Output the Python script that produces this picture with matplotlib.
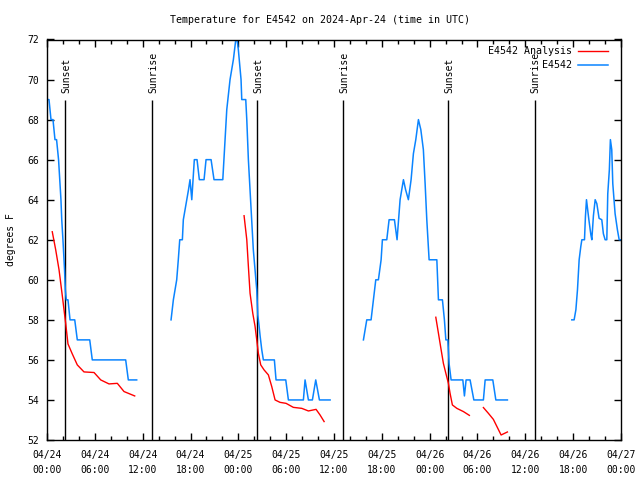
import numpy as np
import matplotlib
matplotlib.use("Agg")
import matplotlib.pyplot as plt

# ---- data (hours since 2024-04-24 00:00 UTC, degrees F) ----
obs1_h = [0.0, 0.25, 0.5, 0.75, 1.0, 1.2, 1.45, 1.6, 1.75, 1.85, 2.0, 2.2, 2.3, 2.42, 2.63, 2.89, 3.48, 3.8, 5.36, 5.68, 9.87, 10.2, 11.25]
obs1_t = [69, 69, 68, 68, 67, 67, 66, 65, 64, 63, 62, 60.5, 59.5, 59, 59, 58, 58, 57, 57, 56, 56, 55, 55]

obs2_h = [15.56, 15.85, 16.27, 16.47, 16.65, 16.98, 17.10, 17.53, 17.75, 17.94, 18.16, 18.32, 18.48, 18.82, 19.11, 19.70, 19.95, 20.58, 20.95, 22.05, 22.33, 22.55, 22.96, 23.38, 23.68, 23.84, 24.0, 24.34, 24.43, 24.93, 25.06, 25.26, 25.60, 25.88, 26.10, 26.31, 26.44, 26.60, 26.73, 26.94, 27.14, 28.52, 28.73, 29.95, 30.28, 32.16, 32.37, 32.79, 33.29, 33.71, 34.17, 35.51]
obs2_t = [58, 59, 60, 61, 62, 62, 63, 64, 64.5, 65, 64, 65, 66, 66, 65, 65, 66, 66, 65, 65, 67, 68.5, 70, 71, 72, 72, 71.5, 70, 69, 69, 68, 66, 63.5, 61.5, 60.5, 59.5, 58.25, 57.7, 57.2, 56.5, 56, 56, 55, 55, 54, 54, 55, 54, 54, 55, 54, 54]

obs3_h = [39.69, 40.11, 40.65, 40.94, 41.24, 41.57, 41.91, 42.07, 42.62, 42.91, 43.58, 43.91, 44.29, 44.71, 44.98, 45.33, 45.67, 45.96, 46.26, 46.59, 46.89, 47.21, 47.43, 47.64, 47.93, 48.90, 49.10, 49.60, 49.85, 50.03, 50.28, 50.44, 50.69, 52.16, 52.36, 52.57, 53.07, 53.54, 54.74, 54.96, 55.92, 56.30, 57.75]
obs3_t = [57, 58, 58, 59, 60, 60, 61, 62, 62, 63, 63, 62, 64, 65, 64.5, 64, 65, 66.3, 67, 68, 67.5, 66.5, 64.8, 63, 61, 61, 59, 59, 58, 57, 57, 55.8, 55, 55, 54.2, 55, 55, 54, 54, 55, 55, 54, 54]

obs4_h = [65.83, 66.12, 66.34, 66.54, 66.75, 66.96, 67.09, 67.42, 67.54, 67.67, 67.79, 67.97, 68.22, 68.34, 68.54, 68.76, 68.97, 69.25, 69.59, 69.79, 70.01, 70.22, 70.34, 70.54, 70.67, 70.84, 70.97, 71.26, 71.55, 71.77, 72.0]
obs4_t = [58, 58, 58.5, 59.5, 61, 61.67, 62, 62, 63.17, 64, 63.6, 63, 62.25, 62, 63.2, 64, 63.8, 63.07, 63, 62.3, 62, 62, 64.3, 65.5, 67, 66.5, 64.8, 63.3, 62.5, 62, 62]

ana1_h = [0.66, 1.09, 1.51, 1.92, 2.35, 2.63, 3.17, 3.80, 4.64, 5.90, 6.74, 7.78, 8.82, 9.66, 11.0]
ana1_t = [62.4, 61.5, 60.5, 59.2, 57.8, 56.8, 56.3, 55.75, 55.4, 55.37, 55.0, 54.8, 54.83, 54.42, 54.2]

ana2_h = [24.72, 25.06, 25.26, 25.47, 25.81, 26.10, 26.31, 26.51, 26.81, 27.23, 27.77, 28.19, 28.61, 29.23, 29.99, 30.90, 31.96, 32.79, 33.75, 34.25, 34.76]
ana2_t = [63.2, 62, 60.67, 59.33, 58.33, 57.67, 57, 56.33, 55.75, 55.5, 55.25, 54.67, 54.0, 53.88, 53.83, 53.63, 53.58, 53.45, 53.53, 53.25, 52.92]

ana3_h = [48.77, 49.10, 49.44, 49.72, 50.03, 50.35, 50.56, 50.85, 51.41, 52.23, 52.98]
ana3_t = [58.13, 57.33, 56.5, 55.83, 55.33, 54.83, 54.33, 53.75, 53.58, 53.42, 53.23]

ana4_h = [54.74, 55.37, 55.99, 56.55, 56.96, 57.38, 57.75]
ana4_t = [53.62, 53.33, 53.03, 52.58, 52.25, 52.33, 52.4]

sun_events = ["Sunset", "Sunrise", "Sunset", "Sunrise", "Sunset", "Sunrise"]
sun_hours = [2.3, 13.15, 26.33, 37.15, 50.35, 61.15]
sun_line_top = 69.0

xtick_hours = [0, 6, 12, 18, 24, 30, 36, 42, 48, 54, 60, 66, 72]
xtick_labels = ["04/24\n00:00", "04/24\n06:00", "04/24\n12:00", "04/24\n18:00",
                "04/25\n00:00", "04/25\n06:00", "04/25\n12:00", "04/25\n18:00",
                "04/26\n00:00", "04/26\n06:00", "04/26\n12:00", "04/26\n18:00",
                "04/27\n00:00"]
yticks = [52, 54, 56, 58, 60, 62, 64, 66, 68, 70, 72]

title = "Temperature for E4542 on 2024-Apr-24 (time in UTC)"
ylabel = "degrees F"
label_ana = "E4542 Analysis"
label_obs = "E4542"

RED = "#ff0000"
BLUE = "#0a84ff"

def join(segs_h, segs_t):
    hh, tt = [], []
    for h, t in zip(segs_h, segs_t):
        hh += list(h) + [np.nan]
        tt += list(t) + [np.nan]
    return np.array(hh, float), np.array(tt, float)

plt.rcParams['font.family'] = ['DejaVu Sans Mono']
plt.rcParams['font.size'] = 7

fig = plt.figure(figsize=(6.4, 4.8), dpi=100)
ax = fig.add_axes([47/640, 1 - 440/480, 574/640, 400.5/480])

ah, at = join([ana1_h, ana2_h, ana3_h, ana4_h], [ana1_t, ana2_t, ana3_t, ana4_t])
oh, ot = join([obs1_h, obs2_h, obs3_h, obs4_h], [obs1_t, obs2_t, obs3_t, obs4_t])

for name, h in zip(sun_events, sun_hours):
    ax.vlines(h, 52, sun_line_top, color="black", lw=1.0, zorder=1)
    ax.text(h + 0.17, sun_line_top + 0.35, name, rotation=90, ha="center", va="bottom",
            fontsize=7, color="black")

ax.plot(ah, at, color=RED, lw=1.0, label=label_ana, zorder=3)
ax.plot(oh, ot, color=BLUE, lw=1.1, label=label_obs, zorder=2)

ax.set_xlim(0, 72)
ax.set_ylim(52, 72)
ax.set_xticks(xtick_hours)
ax.set_xticklabels(xtick_labels, linespacing=1.6)
ax.set_xticks(np.arange(0, 73, 2), minor=True)
ax.set_yticks(yticks)
ax.tick_params(axis="both", which="major", direction="in", length=5, width=1,
               top=True, right=True, colors="black")
ax.tick_params(axis="x", which="minor", direction="in", length=3, width=1, top=True)
ax.tick_params(axis="x", which="major", pad=7)
ax.tick_params(axis="y", which="major", pad=6)
for s in ax.spines.values():
    s.set_linewidth(1.0)

fig.text(0.5, 1 - 20/480, title, ha="center", va="center", fontsize=7.2)
fig.text(11/640, 0.5, ylabel, rotation=90, ha="center", va="center", fontsize=7)

leg = ax.legend(loc="upper right", bbox_to_anchor=(1 - 6/574, 1.0), frameon=False,
                markerfirst=False, fontsize=7.2,
                handlelength=3.0, handletextpad=0.6, labelspacing=0.35,
                borderaxespad=0.3, borderpad=0.4)

fig.savefig("out.png", dpi=100)
